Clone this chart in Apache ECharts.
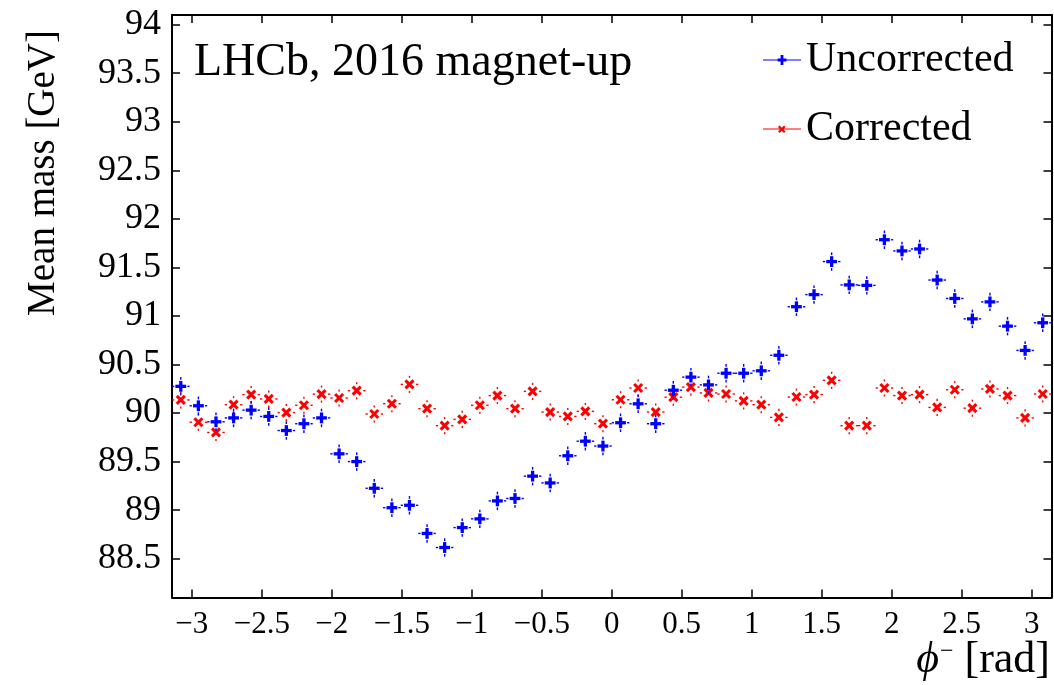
<!DOCTYPE html>
<html>
<head>
<meta charset="utf-8">
<script src="https://cdn.jsdelivr.net/npm/echarts@6/dist/echarts.min.js"></script>
<style>
  html, body { margin: 0; padding: 0; background: #ffffff; }
  #chart { width: 1054px; height: 685px; }
</style>
</head>
<body>
<div id="chart"></div>
<script>
// Mean dimuon mass versus phi^- in 50 equal bins over [-pi, pi]
const binCount = 50;
const phiMin = -Math.PI;
const phiMax = Math.PI;

// Mean mass per bin [GeV], before the curvature-bias correction
const uncorrected = [
  90.275, 90.075, 89.910, 89.950, 90.030, 89.965, 89.820, 89.890, 89.950, 89.580,
  89.500, 89.225, 89.025, 89.050, 88.760, 88.615, 88.820, 88.910, 89.095, 89.120,
  89.350, 89.280, 89.560, 89.710, 89.660, 89.900, 90.095, 89.890, 90.235, 90.370,
  90.290, 90.410, 90.410, 90.435, 90.595, 91.095, 91.220, 91.560, 91.320, 91.315,
  91.785, 91.670, 91.690, 91.370, 91.180, 90.970, 91.145, 90.895, 90.645, 90.930
];
const uncorrectedErr = [
  0.095, 0.095, 0.095, 0.095, 0.095, 0.095, 0.095, 0.095, 0.095, 0.095,
  0.095, 0.095, 0.095, 0.095, 0.095, 0.095, 0.095, 0.095, 0.095, 0.095,
  0.095, 0.095, 0.095, 0.095, 0.095, 0.095, 0.095, 0.095, 0.095, 0.095,
  0.095, 0.095, 0.095, 0.095, 0.095, 0.095, 0.095, 0.095, 0.095, 0.095,
  0.095, 0.095, 0.095, 0.095, 0.095, 0.095, 0.095, 0.095, 0.095, 0.095
];

// Mean mass per bin [GeV], after the correction
const corrected = [
  90.135, 89.905, 89.800, 90.086, 90.190, 90.145, 90.005, 90.080, 90.195, 90.155,
  90.230, 89.990, 90.096, 90.295, 90.045, 89.870, 89.935, 90.080, 90.180, 90.045,
  90.223, 90.010, 89.965, 90.017, 89.890, 90.137, 90.258, 90.010, 90.163, 90.267,
  90.207, 90.196, 90.125, 90.086, 89.955, 90.165, 90.190, 90.337, 89.870, 89.870,
  90.258, 90.180, 90.190, 90.058, 90.240, 90.050, 90.248, 90.180, 89.950, 90.196
];
const correctedErr = [
  0.088, 0.088, 0.088, 0.088, 0.088, 0.088, 0.088, 0.088, 0.088, 0.088,
  0.088, 0.088, 0.088, 0.088, 0.088, 0.088, 0.088, 0.088, 0.088, 0.088,
  0.088, 0.088, 0.088, 0.088, 0.088, 0.088, 0.088, 0.088, 0.088, 0.088,
  0.088, 0.088, 0.088, 0.088, 0.088, 0.088, 0.088, 0.088, 0.088, 0.088,
  0.088, 0.088, 0.088, 0.088, 0.088, 0.088, 0.088, 0.088, 0.088, 0.088
];

// Axis ticks and ranges
const xTicks = [-3, -2.5, -2, -1.5, -1, -0.5, 0, 0.5, 1, 1.5, 2, 2.5, 3];
const yTicks = [88.5, 89, 89.5, 90, 90.5, 91, 91.5, 92, 92.5, 93, 93.5, 94];
const yMin = 88.1;
const yMax = 94.1;

const seriesNames = ['Uncorrected', 'Corrected'];
const seriesColors = ['#0000ff', '#ff0000'];
const titleText = 'LHCb, 2016 magnet-up';
const yTitle = 'Mean mass [GeV]';

const serif = 'Liberation Serif';
const binWidth = (phiMax - phiMin) / binCount;
const halfBin = binWidth / 2;

function toRows(values, errors) {
  return values.map(function (v, i) {
    return [phiMin + (i + 0.5) * binWidth, v, errors[i]];
  });
}

function makeRender(kind, color) {
  return function (params, api) {
    const x = api.value(0), y = api.value(1), e = api.value(2);
    const p = api.coord([x, y]);
    const xl = api.coord([x - halfBin, y])[0];
    const xr = api.coord([x + halfBin, y])[0];
    const yt = api.coord([x, y + e])[1];
    const yb = api.coord([x, y - e])[1];
    const gap = 6.5;
    const kids = [];
    function seg(x1, y1, x2, y2, style) {
      kids.push({ type: 'line', shape: { x1: x1, y1: y1, x2: x2, y2: y2 }, style: style });
    }
    const bar = { stroke: color, lineWidth: 1.4 };
    if (p[0] - gap > xl) seg(xl, p[1], p[0] - gap, p[1], bar);
    if (xr > p[0] + gap) seg(p[0] + gap, p[1], xr, p[1], bar);
    if (p[1] - gap > yt) seg(p[0], yt, p[0], p[1] - gap, bar);
    if (yb > p[1] + gap) seg(p[0], p[1] + gap, p[0], yb, bar);
    if (kind === 'plus') {
      const mk = { stroke: color, lineWidth: 3.3 };
      const s = 5.4;
      seg(p[0] - s, p[1], p[0] + s, p[1], mk);
      seg(p[0], p[1] - s, p[0], p[1] + s, mk);
    } else {
      const mk = { stroke: color, lineWidth: 3.1 };
      const s = 4.0;
      seg(p[0] - s, p[1] - s, p[0] + s, p[1] + s, mk);
      seg(p[0] - s, p[1] + s, p[0] + s, p[1] - s, mk);
    }
    return { type: 'group', children: kids };
  };
}

const plusIcon = 'path://M0,4.4L38,4.4L38,5.6L0,5.6Z M17.6,0L20.4,0L20.4,10L17.6,10Z M14.6,3.6L23.4,3.6L23.4,6.4L14.6,6.4Z';
const crossIcon = 'path://M0,4.4L38,4.4L38,5.6L0,5.6Z M0,0L0.01,0L0.01,0.01Z M0,10L0.01,10L0.01,9.99Z ' +
  'M16.6,1.4L22.6,7.4L21.0,9.0L15.0,3.0Z M21.0,1.4L22.6,3.0L16.6,9.0L15.0,7.4Z';

const axisLineStyle = { color: '#000', width: 2 };
const tickStyle = { color: '#000', width: 1.5 };

const chart = echarts.init(document.getElementById('chart'), null, { renderer: 'canvas' });
chart.setOption({
  animation: false,
  backgroundColor: '#ffffff',
  textStyle: { fontFamily: serif, color: '#000' },
  title: {
    text: titleText,
    left: 189,
    top: 35,
    textStyle: { fontFamily: serif, fontSize: 46, fontWeight: 'normal', color: '#000' }
  },
  legend: {
    orient: 'vertical',
    left: 758,
    top: 32,
    itemWidth: 38,
    itemHeight: 10,
    itemGap: 23,
    textStyle: { fontFamily: serif, fontSize: 42, color: '#000', lineHeight: 46 },
    data: [
      { name: seriesNames[0], icon: plusIcon, itemStyle: { color: seriesColors[0] } },
      { name: seriesNames[1], icon: crossIcon, itemStyle: { color: seriesColors[1] } }
    ]
  },
  grid: { left: 172, right: 2.5, top: 15, bottom: 87.5, containLabel: false },
  xAxis: [
    {
      type: 'value', position: 'bottom', min: phiMin, max: phiMax,
      axisLine: { show: true, onZero: false, lineStyle: axisLineStyle },
      axisTick: { show: true, inside: true, length: 8, lineStyle: tickStyle, customValues: xTicks },
      axisLabel: {
        show: true, customValues: xTicks, margin: 12,
        fontFamily: 'serif', fontSize: 31, color: '#000',
        formatter: function (v) { return String(v).replace('-', '\u2212'); }
      },
      splitLine: { show: false }
    },
    {
      type: 'value', position: 'top', min: phiMin, max: phiMax,
      axisLine: { show: true, onZero: false, lineStyle: axisLineStyle },
      axisTick: { show: true, inside: true, length: 8, lineStyle: tickStyle, customValues: xTicks },
      axisLabel: { show: false },
      splitLine: { show: false }
    }
  ],
  yAxis: [
    {
      type: 'value', position: 'left', min: yMin, max: yMax,
      axisLine: { show: true, onZero: false, lineStyle: axisLineStyle },
      axisTick: { show: true, inside: true, length: 8, lineStyle: tickStyle, customValues: yTicks },
      axisLabel: {
        show: true, customValues: yTicks, margin: 11,
        textStyle: { fontFamily: 'Times New Roman', fontSize: 36, color: '#000' },
        formatter: function (v) { return String(v); }
      },
      splitLine: { show: false }
    },
    {
      type: 'value', position: 'right', min: yMin, max: yMax,
      axisLine: { show: true, onZero: false, lineStyle: axisLineStyle },
      axisTick: { show: true, inside: true, length: 8, lineStyle: tickStyle, customValues: yTicks },
      axisLabel: { show: false },
      splitLine: { show: false }
    }
  ],
  graphic: [
    {
      type: 'text', x: 44, y: 30, rotation: Math.PI / 2,
      style: {
        text: yTitle, font: '39px "Liberation Serif"', fill: '#000',
        textAlign: 'right', textVerticalAlign: 'middle'
      }
    },
    {
      type: 'text', right: 4, top: 638,
      style: {
        text: '{phi|\u03d5}{sup|\u2212}{txt| [rad]}',
        fill: '#000',
        rich: {
          phi: { font: 'italic 44px "Liberation Serif"', fill: '#000' },
          sup: { font: '24px "Liberation Serif"', fill: '#000', verticalAlign: 'top', padding: [2, 0, 0, 1] },
          txt: { font: '44px "Liberation Serif"', fill: '#000' }
        }
      }
    }
  ],
  series: [
    {
      name: seriesNames[0], type: 'custom', xAxisIndex: 0, yAxisIndex: 0,
      itemStyle: { color: seriesColors[0] },
      renderItem: makeRender('plus', seriesColors[0]),
      encode: { x: 0, y: 1 },
      data: toRows(uncorrected, uncorrectedErr), z: 3
    },
    {
      name: seriesNames[1], type: 'custom', xAxisIndex: 0, yAxisIndex: 0,
      itemStyle: { color: seriesColors[1] },
      renderItem: makeRender('cross', seriesColors[1]),
      encode: { x: 0, y: 1 },
      data: toRows(corrected, correctedErr), z: 2
    }
  ]
});
</script>
</body>
</html>
